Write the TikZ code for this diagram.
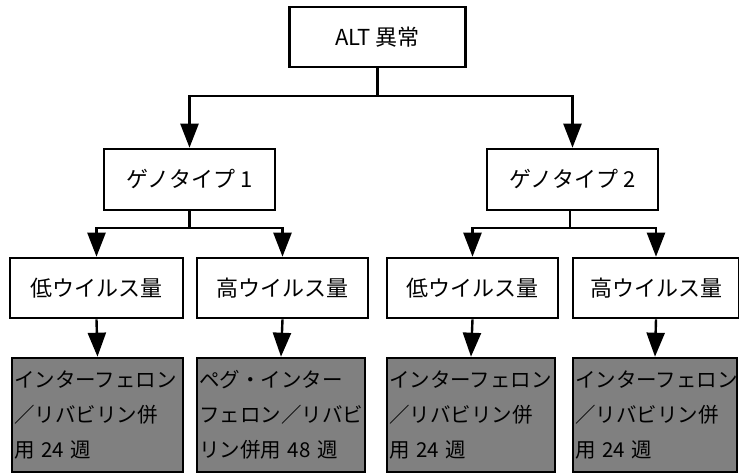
\documentclass[tikz,border=0pt]{standalone}
\usepackage{fontspec}
\setmainfont{Noto Sans CJK JP}
\usetikzlibrary{arrows.meta}
\begin{document}
\begin{tikzpicture}[x=1pt,y=-1pt,
  box/.style={draw,line width=2.6pt,fill=white,minimum height=60pt,inner sep=0pt,font=\fontsize{22}{26}\selectfont},
  gbox/.style={draw,line width=2.6pt,fill=black!50,minimum height=114pt,inner sep=2pt,align=left,font=\fontsize{20.5}{35}\selectfont},
  arr/.style={line width=2.4pt,-{Triangle[length=24pt,width=18pt]}},
  ln/.style={line width=2.4pt}]
\useasboundingbox (0,0) rectangle (739,473);
\fill[white] (0,0) rectangle (739,473);
% nodes
\node[box,minimum width=176pt] (top) at (377.5,37) {ALT 異常};
\node[box,minimum width=171pt,minimum height=61pt] (g1) at (189.5,179.5) {ゲノタイプ 1};
\node[box,minimum width=171pt,minimum height=61pt] (g2) at (572.5,179.5) {ゲノタイプ 2};
\node[box,minimum width=173pt] (l1) at (96.5,288) {低ウイルス量};
\node[box,minimum width=171pt] (l2) at (282.5,288) {高ウイルス量};
\node[box,minimum width=171pt] (l3) at (472.5,288) {低ウイルス量};
\node[box,minimum width=166pt] (l4) at (656,288) {高ウイルス量};
\node[gbox,text width=167pt] (b1) at (97.5,415) {インターフェロン\\／リバビリン併\\用 24 週};
\node[gbox,text width=164pt] (b2) at (281,415) {ペグ・インター\\フェロン／リバビ\\リン併用 48 週};
\node[gbox,text width=164pt] (b3) at (471,415) {インターフェロン\\／リバビリン併\\用 24 週};
\node[gbox,text width=160pt] (b4) at (655,415) {インターフェロン\\／リバビリン併\\用 24 週};
% junctions
\coordinate (j0) at (377.5,96);
\coordinate (j1) at (189.5,228);
\coordinate (j2) at (570,228);
% connectors
\draw[ln] (top.south) -- (j0);
\draw[arr] (j0) -| (g1.north);
\draw[arr] (j0) -| (g2.north);
\draw[ln] (g1.south) -- (j1);
\draw[arr] (j1) -| (l1.north);
\draw[arr] (j1) -| (l2.north);
\draw[ln] (g2.south -| j2) -- (j2);
\draw[arr] (j2) -| (l3.north);
\draw[arr] (j2) -| (l4.north);
\draw[arr] (l1.south) -- (b1.north);
\draw[arr] (l2.south) -- (b2.north);
\draw[arr] (l3.south) -- (b3.north);
\draw[arr] (l4.south) -- (b4.north);
\end{tikzpicture}
\end{document}
